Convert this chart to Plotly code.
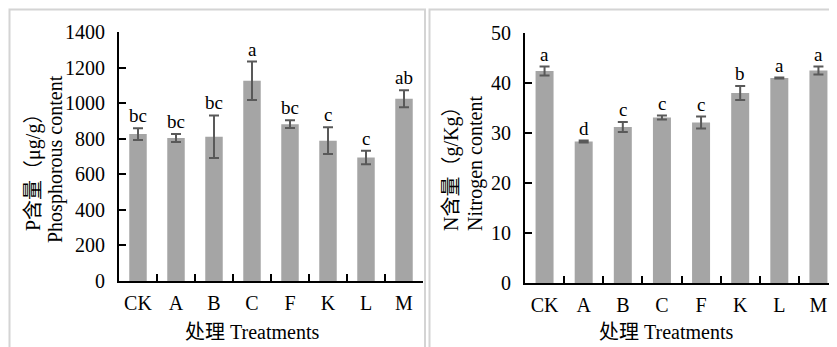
import plotly.graph_objects as go

categories = ["CK", "A", "B", "C", "F", "K", "L", "M"]
p_values = [826, 804, 811, 1126, 882, 789, 695, 1025]
p_errors = [33, 22, 120, 108, 22, 75, 38, 48]
p_letters = ["bc", "bc", "bc", "a", "bc", "c", "c", "ab"]
n_values = [42.4, 28.3, 31.2, 33.1, 32.1, 38.0, 41.0, 42.5]
n_errors = [0.9, 0.2, 1.0, 0.4, 1.2, 1.4, 0.1, 0.8]
n_letters = ["a", "d", "c", "c", "c", "b", "a", "a"]
p_ticks = [0, 200, 400, 600, 800, 1000, 1200, 1400]
n_ticks = [0, 10, 20, 30, 40, 50]

W, H = 837, 347
OFF = 8  # page body margin
FONT = "Liberation Serif, Times New Roman, Noto Sans CJK SC, serif"
BAR = "#a5a5a5"
ERR = "#595959"

def px_x(v):
    return (v - OFF) / W

def px_y(v):
    return 1 - (v - OFF) / H

fig = go.Figure()
fig.add_trace(go.Bar(x=categories, y=p_values, marker_color=BAR, marker_line_width=0,
                     error_y=dict(type="data", array=p_errors, color=ERR, thickness=2, width=5),
                     xaxis="x", yaxis="y", showlegend=False))
fig.add_trace(go.Bar(x=categories, y=n_values, marker_color=BAR, marker_line_width=0,
                     error_y=dict(type="data", array=n_errors, color=ERR, thickness=2, width=5),
                     xaxis="x2", yaxis="y2", showlegend=False))

annotations = []
for c, v, e, t in zip(categories, p_values, p_errors, p_letters):
    annotations.append(dict(x=c, y=v + e, xref="x", yref="y", text=t, showarrow=False,
                            yanchor="bottom", yshift=0, font=dict(size=19, family=FONT, color="black")))
for c, v, e, t in zip(categories, n_values, n_errors, n_letters):
    annotations.append(dict(x=c, y=v + e, xref="x2", yref="y2", text=t, showarrow=False,
                            yanchor="bottom", yshift=0, font=dict(size=19, family=FONT, color="black")))

def txt(x, y, text, angle=0):
    annotations.append(dict(x=px_x(x), y=px_y(y), xref="paper", yref="paper", text=text,
                            showarrow=False, textangle=angle, xanchor="center", yanchor="middle",
                            font=dict(size=20, family=FONT, color="black")))

txt(33, 168, "P含量（μg/g）", -90)
txt(55, 159, "Phosphorous content", -90)
txt(451, 164, "N含量（g/Kg）", -90)
txt(475, 164, "Nitrogen content", -90)
txt(252, 332, "处理 Treatments")
txt(666, 332, "处理 Treatments")

axis_common = dict(showline=True, linecolor="black", linewidth=2, ticks="inside", ticklen=7,
                   tickwidth=2, tickcolor="black", showgrid=False, zeroline=False,
                   tickfont=dict(size=20, family=FONT, color="black"), automargin=False)

fig.update_layout(
    width=W, height=H, margin=dict(l=0, r=0, t=0, b=0),
    paper_bgcolor="white", plot_bgcolor="white",
    bargap=0.54,
    xaxis=dict(domain=[px_x(119), px_x(423)], anchor="y", type="category", tickangle=0,
               tickson="boundaries", ticklabelstandoff=3, **axis_common),
    yaxis=dict(domain=[px_y(281), px_y(32)], anchor="x", range=[0, 1400], tickvals=p_ticks,
               ticklabelstandoff=8, **axis_common),
    xaxis2=dict(domain=[px_x(525), px_x(838)], anchor="y2", type="category", tickangle=0,
                tickson="boundaries", ticklabelstandoff=3, **axis_common),
    yaxis2=dict(domain=[px_y(283), px_y(33)], anchor="x2", range=[0, 50], tickvals=n_ticks,
                ticklabelstandoff=8, **axis_common),
    annotations=annotations,
    shapes=[
        dict(type="rect", xref="paper", yref="paper", x0=px_x(9.5), x1=px_x(425), y0=-0.05, y1=px_y(9.5),
             line=dict(color="#d4d4d4", width=2), layer="below"),
        dict(type="rect", xref="paper", yref="paper", x0=px_x(429.5), x1=1.05, y0=-0.05, y1=px_y(9.5),
             line=dict(color="#d4d4d4", width=2), layer="below"),
    ],
)

fig.write_html("out.html")
